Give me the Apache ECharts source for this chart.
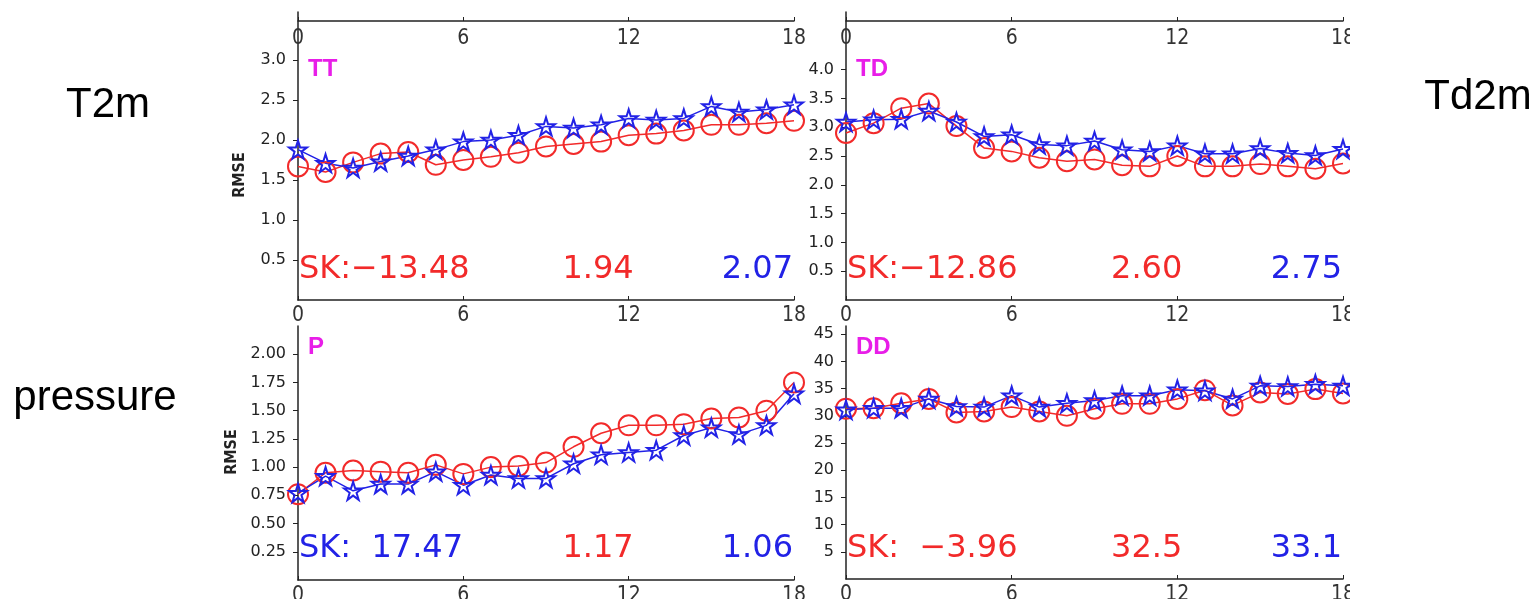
<!DOCTYPE html>
<html>
<head>
<meta charset="utf-8">
<script src="https://cdn.jsdelivr.net/npm/echarts@6/dist/echarts.min.js"></script>
<style>
  html, body { margin: 0; padding: 0; background: #fff; }
  #chart { width: 1537px; height: 599px; }
</style>
</head>
<body>
<div id="chart"></div>
<script>
// forecast lead time (hours)
const leadHours = [0, 1, 2, 3, 4, 5, 6, 7, 8, 9, 10, 11, 12, 13, 14, 15, 16, 17, 18];
const xTicks = [0, 6, 12, 18];

// RMSE per lead hour, red = circles, blue = stars
const ttRed  = [1.67, 1.60, 1.72, 1.83, 1.85, 1.69, 1.75, 1.79, 1.84, 1.92, 1.95, 1.98, 2.06, 2.08, 2.12, 2.19, 2.19, 2.21, 2.24];
const ttBlue = [1.88, 1.71, 1.65, 1.73, 1.80, 1.88, 1.98, 2.00, 2.06, 2.17, 2.15, 2.19, 2.27, 2.25, 2.27, 2.42, 2.35, 2.38, 2.44];
const tdRed  = [2.90, 3.07, 3.33, 3.41, 3.02, 2.64, 2.58, 2.47, 2.41, 2.44, 2.34, 2.32, 2.50, 2.32, 2.32, 2.36, 2.32, 2.28, 2.37];
const tdBlue = [3.09, 3.13, 3.14, 3.28, 3.09, 2.84, 2.87, 2.70, 2.68, 2.76, 2.61, 2.58, 2.68, 2.54, 2.54, 2.63, 2.55, 2.51, 2.62];
const pRed   = [0.76, 0.95, 0.97, 0.96, 0.95, 1.02, 0.94, 1.00, 1.01, 1.04, 1.18, 1.30, 1.37, 1.37, 1.38, 1.43, 1.44, 1.50, 1.75];
const pBlue  = [0.77, 0.92, 0.79, 0.85, 0.85, 0.96, 0.84, 0.93, 0.90, 0.90, 1.03, 1.11, 1.13, 1.15, 1.28, 1.35, 1.29, 1.37, 1.65];
const ddRed  = [31.3, 31.4, 32.3, 33.1, 30.6, 30.8, 31.6, 30.8, 30.0, 31.3, 32.2, 32.2, 33.1, 34.7, 31.9, 34.3, 34.0, 34.9, 34.1];
const ddBlue = [31.1, 31.4, 31.4, 33.1, 31.7, 31.6, 33.7, 31.6, 32.3, 32.8, 33.7, 33.7, 34.8, 34.6, 33.1, 35.5, 35.4, 35.8, 35.5];

// y axis tick labels per panel
const ttTicks = [0.5, 1.0, 1.5, 2.0, 2.5, 3.0];
const tdTicks = [0.5, 1.0, 1.5, 2.0, 2.5, 3.0, 3.5, 4.0];
const pTicks  = [0.25, 0.50, 0.75, 1.00, 1.25, 1.50, 1.75, 2.00];
const ddTicks = [5, 10, 15, 20, 25, 30, 35, 40, 45];

// panel texts
const panelNames  = ['TT', 'TD', 'P', 'DD'];
const skTexts     = ['SK:\u221213.48', 'SK:\u221212.86', 'SK:  17.47', 'SK:  \u22123.96'];
const skIsBlue    = [false, false, true, false];
const redScores   = ['1.94', '2.60', '1.17', '32.5'];
const blueScores  = ['2.07', '2.75', '1.06', '33.1'];
const rowLabels   = ['T2m', 'pressure', 'Td2m'];
const yName = 'RMSE';

const RED = '#f22a2a';
const BLUE = '#2222e6';
const MAGENTA = '#e81ee8';
const AXIS = '#222';
const narrow = '"Liberation Sans Narrow", "DejaVu Sans Condensed", "Liberation Sans", sans-serif';
const star = 'path://M50,2 L61,36 L97,36 L68,57 L79,92 L50,71 L21,92 L32,57 L3,36 L39,36 Z';

const panels = [
  { red: ttRed, blue: ttBlue, ticks: ttTicks, max: 3.6,  dec: 1, grid: { left: 298, top: 12,  width: 496, height: 288 }, top: true,  rmse: [240, 175] },
  { red: tdRed, blue: tdBlue, ticks: tdTicks, max: 5.0,  dec: 1, grid: { left: 846, top: 12,  width: 497, height: 288 }, top: true },
  { red: pRed,  blue: pBlue,  ticks: pTicks,  max: 2.25, dec: 2, grid: { left: 298, top: 326, width: 496, height: 254 }, top: false, rmse: [232, 452] },
  { red: ddRed, blue: ddBlue, ticks: ddTicks, max: 46.5, dec: 0, grid: { left: 846, top: 326, width: 497, height: 253 }, top: false }
];

const grids = [], xAxes = [], yAxes = [], series = [], texts = [];

function xAxisBase(gi) {
  return {
    type: 'value', gridIndex: gi, min: 0, max: 18, interval: 6,
    axisLine: { show: true, lineStyle: { color: AXIS, width: 1.5 } },
    axisTick: { show: true, inside: true, length: 4, lineStyle: { color: AXIS } },
    axisLabel: { show: true, customValues: xTicks, fontFamily: narrow, fontSize: 21, color: '#333', margin: 5 },
    splitLine: { show: false }
  };
}

panels.forEach(function (p, i) {
  grids.push(Object.assign({ containLabel: false, outerBoundsMode: 'none' }, p.grid));
  const bottomX = xAxisBase(i);
  bottomX.position = 'bottom';
  const mainIndex = xAxes.length;
  xAxes.push(bottomX);
  if (p.top) {
    const topX = xAxisBase(i);
    topX.position = 'top';
    topX.offset = -9;
    topX.axisTick.inside = false;
    topX.axisLabel.inside = true;
    topX.axisLabel.margin = 7;
    xAxes.push(topX);
  }
  yAxes.push({
    type: 'value', gridIndex: i, min: 0, max: p.max,
    axisLine: { show: true, lineStyle: { color: AXIS, width: 1.5 } },
    axisTick: { show: true, customValues: p.ticks, length: 5, lineStyle: { color: AXIS } },
    axisLabel: {
      customValues: p.ticks, fontFamily: '"DejaVu Sans", sans-serif', fontSize: 16, color: '#222', margin: 12,
      formatter: function (v) { return v.toFixed(p.dec); }
    },
    splitLine: { show: false }
  });

  series.push({
    type: 'line', xAxisIndex: mainIndex, yAxisIndex: i,
    data: leadHours.map(function (h, k) { return [h, p.red[k]]; }),
    symbol: 'circle', symbolSize: 20,
    lineStyle: { color: RED, width: 1.5 },
    itemStyle: { color: 'rgba(255,255,255,0)', borderColor: RED, borderWidth: 2 },
    emphasis: { disabled: true }, animation: false
  });
  series.push({
    type: 'line', xAxisIndex: mainIndex, yAxisIndex: i,
    data: leadHours.map(function (h, k) { return [h, p.blue[k]]; }),
    symbol: star, symbolSize: 18,
    lineStyle: { color: BLUE, width: 1.5 },
    itemStyle: { color: 'rgba(255,255,255,0)', borderColor: BLUE, borderWidth: 2 },
    emphasis: { disabled: true }, animation: false
  });

  const g = p.grid;
  const skY = p.top ? 270 : 549;
  texts.push({ type: 'text', x: g.left + 10, y: p.top ? 69 : 347, z: 50,
    style: { text: panelNames[i], fill: MAGENTA, fontSize: 24, fontWeight: 'bold', fontFamily: '"Liberation Sans", sans-serif', align: 'left', verticalAlign: 'middle' } });
  texts.push({ type: 'text', x: g.left + 1, y: skY, z: 50,
    style: { text: skTexts[i], fill: skIsBlue[i] ? BLUE : RED, fontSize: 32, fontFamily: '"DejaVu Sans", sans-serif', align: 'left', verticalAlign: 'middle' } });
  texts.push({ type: 'text', x: g.left + 0.605 * g.width, y: skY, z: 50,
    style: { text: redScores[i], fill: RED, fontSize: 32, fontFamily: '"DejaVu Sans", sans-serif', align: 'center', verticalAlign: 'middle' } });
  texts.push({ type: 'text', x: g.left + g.width - 1, y: skY, z: 50,
    style: { text: blueScores[i], fill: BLUE, fontSize: 32, fontFamily: '"DejaVu Sans", sans-serif', align: 'right', verticalAlign: 'middle' } });
  if (p.rmse) {
    texts.push({ type: 'text', x: p.rmse[0], y: p.rmse[1], rotation: Math.PI / 2, z: 50,
      style: { text: yName, fill: '#222', fontSize: 16, fontWeight: 'bold', fontFamily: narrow, align: 'center', verticalAlign: 'middle' } });
  }
});

// crop edge of the original figure on the right
texts.push({ type: 'rect', shape: { x: 1350, y: 0, width: 60, height: 599 }, style: { fill: '#fff' }, z: 100 });

const labelFont = '"Liberation Sans", Arial, sans-serif';
texts.push({ type: 'text', x: 108, y: 105, z: 110, style: { text: rowLabels[0], fill: '#000', fontSize: 42, fontFamily: labelFont, align: 'center', verticalAlign: 'middle' } });
texts.push({ type: 'text', x: 95, y: 398, z: 110, style: { text: rowLabels[1], fill: '#000', fontSize: 42, fontFamily: labelFont, align: 'center', verticalAlign: 'middle' } });
texts.push({ type: 'text', x: 1478, y: 97, z: 110, style: { text: rowLabels[2], fill: '#000', fontSize: 42, fontFamily: labelFont, align: 'center', verticalAlign: 'middle' } });

const chart = echarts.init(document.getElementById('chart'), null, { renderer: 'canvas' });
chart.setOption({
  backgroundColor: '#fff',
  animation: false,
  grid: grids,
  xAxis: xAxes,
  yAxis: yAxes,
  series: series,
  graphic: { elements: texts }
});
</script>
</body>
</html>
